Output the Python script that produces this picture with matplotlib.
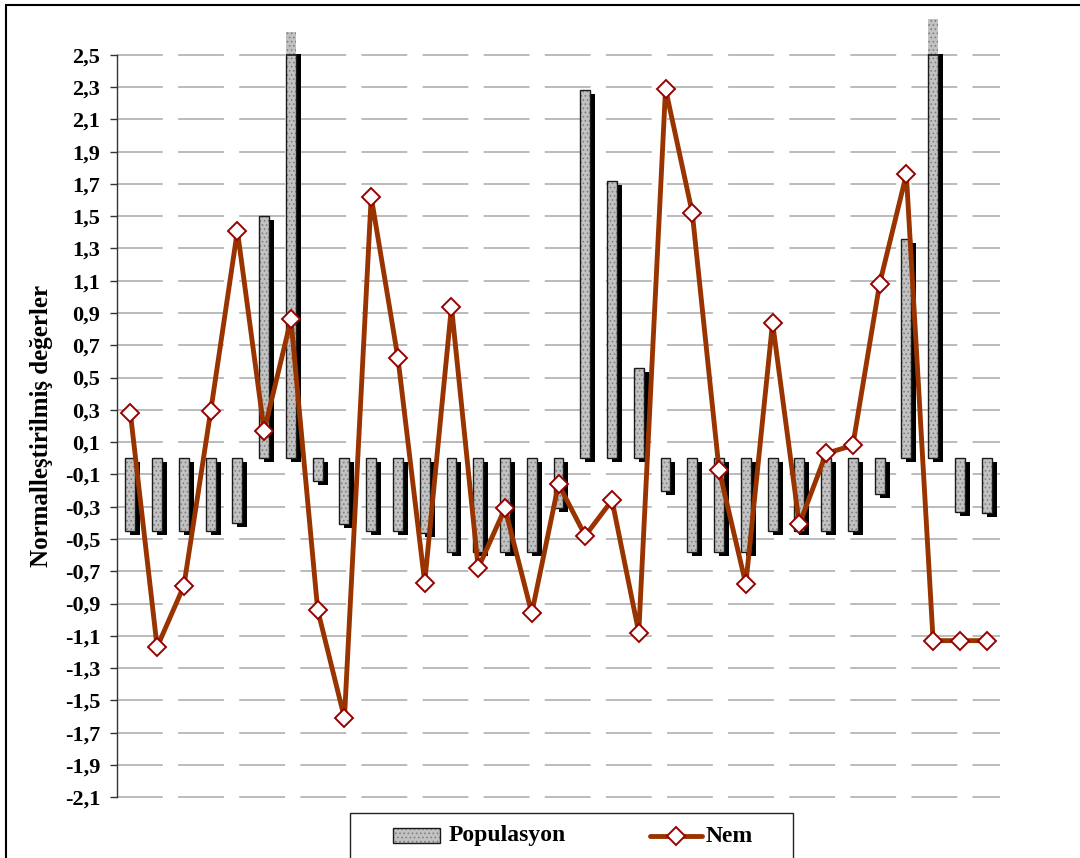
import matplotlib
matplotlib.use("Agg")
import matplotlib.pyplot as plt
import numpy as np
from matplotlib.transforms import ScaledTranslation
from matplotlib.patches import Rectangle
from matplotlib.lines import Line2D

# Normalised values for each station
populasyon = [-0.45, -0.45, -0.45, -0.45, -0.40, 1.50, 2.64, -0.14, -0.41, -0.45,
              -0.45, -0.46, -0.58, -0.58, -0.58, -0.58, -0.31, 2.28, 1.72, 0.56,
              -0.20, -0.58, -0.58, -0.58, -0.45, -0.45, -0.45, -0.45, -0.22, 1.36,
              2.72, -0.33, -0.34]
nem = [0.28, -1.17, -0.79, 0.29, 1.41, 0.17, 0.86, -0.94, -1.61, 1.62,
       0.62, -0.77, 0.94, -0.68, -0.31, -0.96, -0.16, -0.48, -0.26, -1.08,
       2.29, 1.52, -0.07, -0.78, 0.84, -0.41, 0.03, 0.08, 1.08, 1.76,
       -1.13, -1.13, -1.13]
y_ticks = [-2.1, -1.9, -1.7, -1.5, -1.3, -1.1, -0.9, -0.7, -0.5, -0.3, -0.1,
           0.1, 0.3, 0.5, 0.7, 0.9, 1.1, 1.3, 1.5, 1.7, 1.9, 2.1, 2.3, 2.5]
series_names = ["Populasyon", "Nem"]
y_label = "Normalleştirilmiş değerler"

plt.rcParams["font.family"] = ["Liberation Serif", "DejaVu Serif"]
plt.rcParams["font.weight"] = "bold"
plt.rcParams["hatch.linewidth"] = 0.7

W, H = 1080, 858
fig = plt.figure(figsize=(W / 100, H / 100), dpi=100)
ax = fig.add_axes([117 / W, 60 / H, 883 / W, 744 / H])

x = np.arange(len(populasyon))
pop = np.array(populasyon)
y_min, y_max = y_ticks[0], y_ticks[-1]

bar_w = 0.37
bar_face = "#c2c2c2"
hatch_col = "#808080"
bar_hatch = "...."
line_color = "#993300"
marker_edge = "#990000"

# drop shadow behind each column
shadow_tf = ax.transData + ScaledTranslation(5 / 100, -4 / 100, fig.dpi_scale_trans)
ax.bar(x, pop, width=bar_w, color="black", linewidth=0, transform=shadow_tf, zorder=2)

# textured columns
bars = ax.bar(x, pop, width=bar_w, facecolor=bar_face, edgecolor=hatch_col, linewidth=0,
              hatch=bar_hatch, zorder=3)
ax.bar(x, pop, width=bar_w, fill=False, edgecolor="#1a1a1a", linewidth=1.0, zorder=3.1)
# part of tall columns running past the top of the value axis
over = pop > y_max
ax.bar(x[over], pop[over] - y_max, bottom=y_max, width=bar_w, facecolor=bar_face,
       edgecolor=hatch_col, linewidth=0, hatch=bar_hatch, clip_on=False, zorder=3)
ax.hlines([y_max] * int(over.sum()), x[over] - bar_w / 2, x[over] + bar_w / 2,
          colors="#1a1a1a", linewidth=1.2, zorder=3.2, clip_on=False)

# humidity line
ax.plot(x, nem, color=line_color, linewidth=3.5, marker="D", markersize=9,
        markerfacecolor="white", markeredgecolor=marker_edge, markeredgewidth=1.4,
        zorder=4)

ax.set_xlim(-0.5, len(populasyon) - 0.5)
ax.set_ylim(y_min - 0.005, y_max + 0.005)
ax.set_yticks(y_ticks)
ax.set_yticklabels([f"{v:.1f}".replace(".", ",") for v in y_ticks])
ax.set_xticks([])
ax.yaxis.grid(True, color="#a8a8a8", linewidth=1.1, linestyle=(0, (30, 10)), zorder=0)
ax.set_axisbelow(True)
for s in ("top", "right", "bottom"):
    ax.spines[s].set_visible(False)
ax.spines["left"].set_bounds(y_min, y_max)
ax.spines["left"].set_color("#333333")
ax.spines["left"].set_linewidth(1.0)
ax.tick_params(axis="y", direction="out", length=5, width=1.0, color="#333333",
               pad=7, labelsize=16)
for lbl in ax.get_yticklabels():
    lbl.set_fontweight("bold")

fig.text(42 / W, 1 - 426 / H, y_label, rotation=90, ha="center", va="center",
         fontsize=18, fontweight="bold")

# legend box, drawn in figure pixels
def fx(px):
    return px / W


def fy(py):
    return 1 - py / H


fig.patches.append(Rectangle((fx(350), fy(870)), fx(793) - fx(350), fy(813) - fy(870),
                             transform=fig.transFigure, facecolor="white",
                             edgecolor="#222222", linewidth=1.0, zorder=5))
fig.patches.append(Rectangle((fx(393), fy(843)), fx(440) - fx(393), fy(828) - fy(843),
                             transform=fig.transFigure, facecolor=bar_face,
                             edgecolor=hatch_col, linewidth=0, hatch=bar_hatch, zorder=6))
fig.patches.append(Rectangle((fx(393), fy(843)), fx(440) - fx(393), fy(828) - fy(843),
                             transform=fig.transFigure, fill=False,
                             edgecolor="#1a1a1a", linewidth=1.0, zorder=6))
fig.lines.append(Line2D([fx(650), fx(702)], [fy(836), fy(836)], transform=fig.transFigure,
                        color=line_color, linewidth=3.5, solid_capstyle="round", zorder=6))
fig.lines.append(Line2D([fx(676)], [fy(836)], transform=fig.transFigure, marker="D",
                        markersize=9, markerfacecolor="white", markeredgecolor=marker_edge,
                        markeredgewidth=1.4, linestyle="none", zorder=7))
fig.text(fx(449), fy(836), series_names[0], ha="left", va="center", fontsize=17,
         fontweight="bold", zorder=7)
fig.text(fx(706), fy(836), series_names[1], ha="left", va="center", fontsize=17,
         fontweight="bold", zorder=7)

# outer frame of the chart area
fig.patches.append(Rectangle((6 / W, -0.05), 1.1, 1 - 5 / H + 0.05,
                             transform=fig.transFigure, fill=False,
                             edgecolor="black", linewidth=1.5))

fig.savefig("out.png", dpi=100)
